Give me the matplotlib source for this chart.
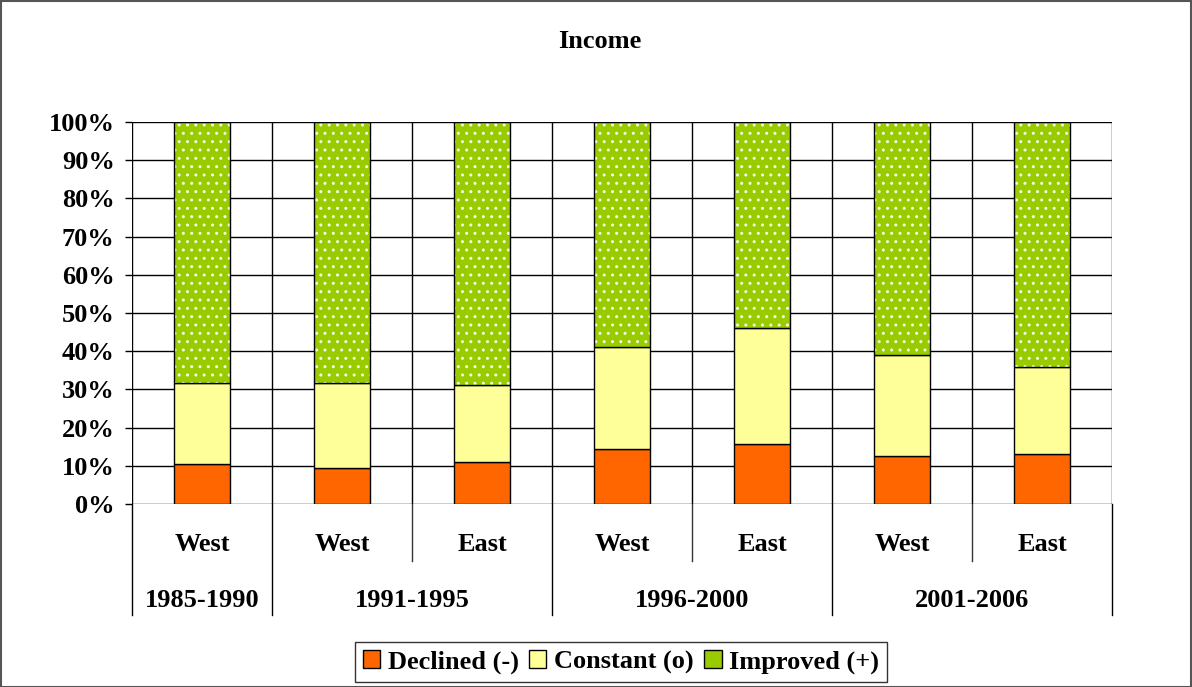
import matplotlib
matplotlib.use("Agg")
import matplotlib.pyplot as plt
from matplotlib.patches import Patch, Rectangle
from matplotlib.lines import Line2D
import numpy as np

# ---- data ----
regions = ['West', 'West', 'East', 'West', 'East', 'West', 'East']
periods = ['1985-1990', '1991-1995', '1996-2000', '2001-2006']
period_sizes = [1, 2, 2, 2]
declined = [10.5, 9.5, 10.9, 14.4, 15.7, 12.6, 13.0]
constant = [21.3, 22.3, 20.2, 26.6, 30.4, 26.3, 22.9]
improved = [68.2, 68.2, 68.9, 59.0, 53.9, 61.1, 64.1]
series_labels = ['Declined (-)', 'Constant (o)', 'Improved (+)']
yticks = [0, 10, 20, 30, 40, 50, 60, 70, 80, 90, 100]
title = 'Income'

c_dec = '#FF6600'
c_con = '#FFFF99'
c_imp = '#99CC00'

plt.rcParams['font.family'] = ['Liberation Serif', 'DejaVu Serif']
plt.rcParams['font.weight'] = 'bold'
plt.rcParams['hatch.linewidth'] = 1.0
FS = 19

W, H = 1192, 687
fig = plt.figure(figsize=(W / 100, H / 100), dpi=100)
L, R, T, B = 132, 1112, 122, 504
ax = fig.add_axes([L / W, 1 - B / H, (R - L) / W, (B - T) / H])

x = np.arange(len(regions))
bw = 0.4
dec = np.array(declined)
con = np.array(constant)
imp = np.array(improved)

ax.bar(x, dec, bw, color=c_dec, edgecolor='black', linewidth=1, zorder=3)
ax.bar(x, con, bw, bottom=dec, color=c_con, edgecolor='black', linewidth=1, zorder=3)
ax.bar(x, imp, bw, bottom=dec + con, color=c_imp, edgecolor='#F4FAE6', linewidth=0,
       hatch='..', zorder=3)
ax.bar(x, imp, bw, bottom=dec + con, color='none', edgecolor='black', linewidth=1, zorder=4)

ax.set_xlim(-0.5, len(regions) - 0.5)
ax.set_ylim(0, 100)
ax.set_yticks(yticks)
ax.set_yticklabels([f'{v}%' for v in yticks], fontsize=FS, fontweight='bold')
ax.tick_params(axis='y', direction='out', length=5, width=1, pad=7.5, color='black')
ax.set_xticks([])

# grid
for v in yticks:
    ax.axhline(v, color='black', lw=1, zorder=1)
for b in np.arange(-0.5, len(regions), 1.0):
    ax.axvline(b, color='black', lw=1, zorder=1)
for s in ax.spines.values():
    s.set_visible(False)

# category axis labels
tr = ax.get_xaxis_transform()
for xi, r in zip(x, regions):
    ax.text(xi, -0.105, r, transform=tr, ha='center', va='center', fontsize=FS,
            fontweight='bold')

bounds = np.concatenate([[0], np.cumsum(period_sizes)]) - 0.5
for i, p in enumerate(periods):
    cx = (bounds[i] + bounds[i + 1]) / 2
    ax.text(cx, -0.253, p, transform=tr, ha='center', va='center', fontsize=FS,
            fontweight='bold')
for b in bounds:
    ax.add_line(Line2D([b, b], [0, -0.291], transform=tr, color='black', lw=1,
                       clip_on=False))
for b in np.arange(-0.5, len(regions), 1.0):
    if b not in bounds:
        ax.add_line(Line2D([b, b], [0, -0.149], transform=tr, color='#333333', lw=1,
                           clip_on=False))

# title
fig.text(600 / W, 1 - 42 / H, title, ha='center', va='center', fontsize=FS,
         fontweight='bold')

# legend
handles = [Patch(facecolor=c_dec, edgecolor='black', lw=1),
           Patch(facecolor=c_con, edgecolor='black', lw=1),
           Patch(facecolor=c_imp, edgecolor='black', lw=1)]
leg = fig.legend(handles, series_labels, loc='center', bbox_to_anchor=(621 / W, 1 - 662 / H),
                 ncol=3, frameon=True, fancybox=False, handlelength=0.65,
                 handleheight=0.65, handletextpad=0.3, columnspacing=0.4,
                 borderpad=0.3, borderaxespad=0, prop={'weight': 'bold', 'size': FS})
leg.get_frame().set_edgecolor('black')
leg.get_frame().set_linewidth(1)

# figure border
fig.add_artist(Rectangle((0.5 / W, 0.5 / H), 1 - 1.5 / W, 1 - 1.5 / H, transform=fig.transFigure,
                         fill=False, edgecolor='#555555', lw=1.5))

fig.savefig('out.png', dpi=100)
